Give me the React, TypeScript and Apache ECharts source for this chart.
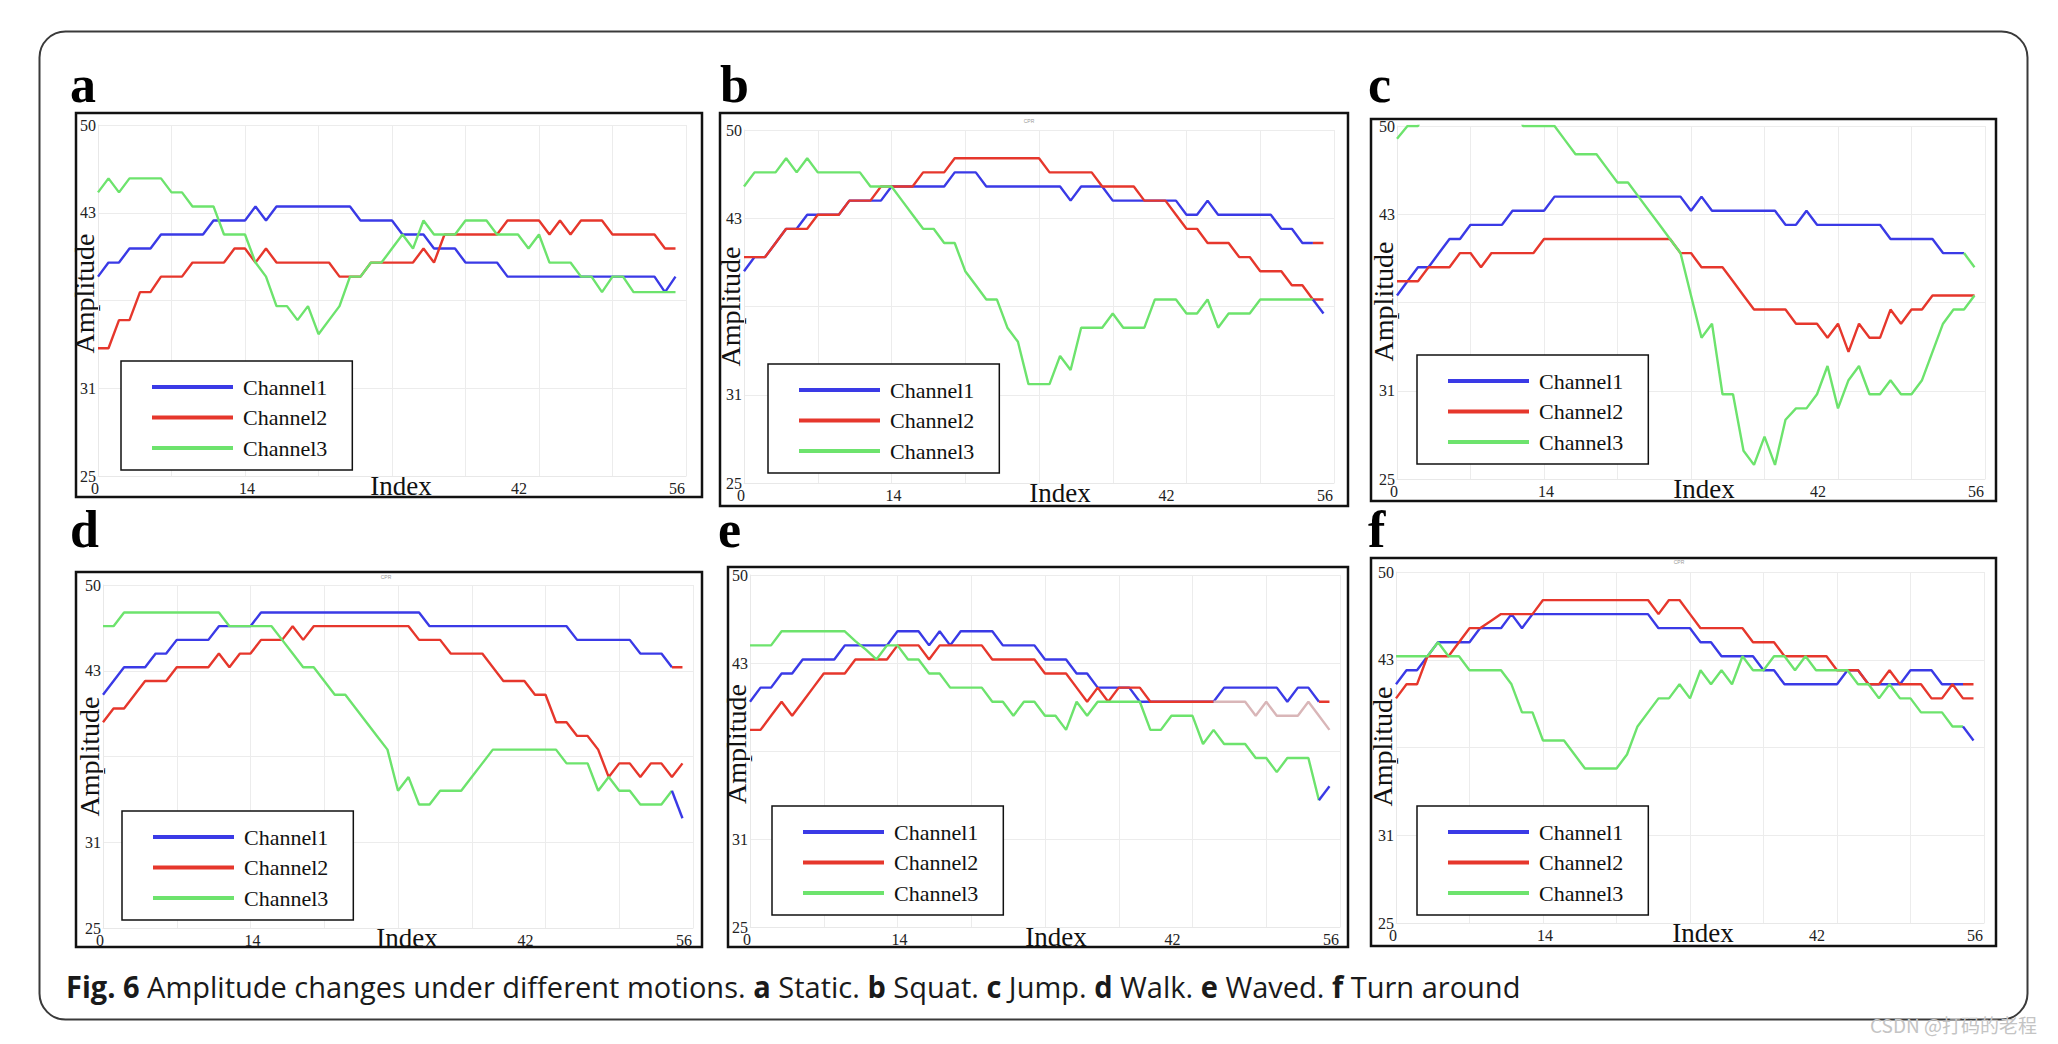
import React, { useEffect, useRef } from "react";
import * as echarts from "echarts";

// ---------------- data ----------------
const CHANNEL_NAMES = ["Channel1", "Channel2", "Channel3"];
const PANEL_LETTERS = ["a", "b", "c", "d", "e", "f"];
const X_TICK_LABELS = [0, 14, 42, 56];
const Y_TICK_LABELS = [25, 31.25, 43.75, 50];
const CAPTION = "{b|Fig. 6} Amplitude changes under different motions. {b|a} Static. {b|b} Squat. {b|c} Jump. {b|d} Walk. {b|e} Waved. {b|f} Turn around";

const A_CH1 = [39.2, 40.2, 40.2, 41.2, 41.2, 41.2, 42.2, 42.2, 42.2, 42.2,
  42.2, 43.2, 43.2, 43.2, 43.2, 44.2, 43.2, 44.2, 44.2, 44.2,
  44.2, 44.2, 44.2, 44.2, 44.2, 43.2, 43.2, 43.2, 43.2, 42.2,
  42.2, 42.2, 41.2, 41.2, 41.2, 40.2, 40.2, 40.2, 40.2, 39.2,
  39.2, 39.2, 39.2, 39.2, 39.2, 39.2, 39.2, 39.2, 39.2, 39.2,
  39.2, 39.2, 39.2, 39.2, 38.1, 39.2];
const A_CH2 = [34.1, 34.1, 36.1, 36.1, 38.1, 38.1, 39.2, 39.2, 39.2, 40.2,
  40.2, 40.2, 40.2, 41.2, 41.2, 40.2, 41.2, 40.2, 40.2, 40.2,
  40.2, 40.2, 40.2, 39.2, 39.2, 39.2, 40.2, 40.2, 40.2, 40.2,
  40.2, 41.2, 40.2, 42.2, 42.2, 42.2, 42.2, 42.2, 42.2, 43.2,
  43.2, 43.2, 43.2, 42.2, 43.2, 42.2, 43.2, 43.2, 43.2, 42.2,
  42.2, 42.2, 42.2, 42.2, 41.2, 41.2];
const A_CH3 = [45.2, 46.2, 45.2, 46.2, 46.2, 46.2, 46.2, 45.2, 45.2, 44.2,
  44.2, 44.2, 42.2, 42.2, 42.2, 40.2, 39.2, 37.1, 37.1, 36.1,
  37.1, 35.1, 36.1, 37.1, 39.2, 39.2, 40.2, 40.2, 41.2, 42.2,
  41.2, 43.2, 42.2, 42.2, 42.2, 43.2, 43.2, 43.2, 42.2, 42.2,
  42.2, 41.2, 42.2, 40.2, 40.2, 40.2, 39.2, 39.2, 38.1, 39.2,
  39.2, 38.1, 38.1, 38.1, 38.1, 38.1];

const B_CH1 = [40, 41, 41, 42, 43, 43, 44, 44, 44, 44,
  45, 45, 45, 45, 46, 46, 46, 46, 46, 46,
  47, 47, 47, 46, 46, 46, 46, 46, 46, 46,
  46, 45, 46, 46, 46, 45, 45, 45, 45, 45,
  45, 45, 44, 44, 45, 44, 44, 44, 44, 44,
  44, 43, 43, 42, 42, 42];
const B_CH2 = [41, 41, 41, 42, 43, 43, 43, 44, 44, 44,
  45, 45, 45, 46, 46, 46, 46, 47, 47, 47,
  48, 48, 48, 48, 48, 48, 48, 48, 48, 47,
  47, 47, 47, 47, 46, 46, 46, 46, 45, 45,
  45, 44, 43, 43, 42, 42, 42, 41, 41, 40,
  40, 40, 39, 39, 38, 38];
const B_CH3 = [46, 47, 47, 47, 48, 47, 48, 47, 47, 47,
  47, 47, 46, 46, 46, 45, 44, 43, 43, 42,
  42, 40, 39, 38, 38, 36, 35, 32, 32, 32,
  34, 33, 36, 36, 36, 37, 36, 36, 36, 38,
  38, 38, 37, 37, 38, 36, 37, 37, 37, 38,
  38, 38, 38, 38, 38, 37];

const C_CH1 = [38, 39, 40, 40, 41, 42, 42, 43, 43, 43,
  43, 44, 44, 44, 44, 45, 45, 45, 45, 45,
  45, 45, 45, 45, 45, 45, 45, 45, 44, 45,
  44, 44, 44, 44, 44, 44, 44, 43, 43, 44,
  43, 43, 43, 43, 43, 43, 43, 42, 42, 42,
  42, 42, 41, 41, 41, 40];
const C_CH2 = [39, 39, 39, 40, 40, 40, 41, 41, 40, 41,
  41, 41, 41, 41, 42, 42, 42, 42, 42, 42,
  42, 42, 42, 42, 42, 42, 42, 41, 41, 40,
  40, 40, 39, 38, 37, 37, 37, 37, 36, 36,
  36, 35, 36, 34, 36, 35, 35, 37, 36, 37,
  37, 38, 38, 38, 38, 38];
const C_CH3 = [49.1, 50, 50, 52, 52, 52, 52, 52, 52, 52,
  52, 52, 50, 50, 50, 50, 49, 48, 48, 48,
  47, 46, 46, 45, 44, 43, 42, 41, 38, 35,
  36, 31, 31, 27, 26, 28, 26, 29.2, 30, 30,
  31, 33, 30, 32, 33, 31, 31, 32, 31, 31,
  32, 34, 36, 37, 37, 38];

const D_CH1 = [42, 43, 44, 44, 44, 45, 45, 46, 46, 46,
  46, 47, 47, 47, 47, 48, 48, 48, 48, 48,
  48, 48, 48, 48, 48, 48, 48, 48, 48, 48,
  48, 47, 47, 47, 47, 47, 47, 47, 47, 47,
  47, 47, 47, 47, 47, 46, 46, 46, 46, 46,
  46, 45, 45, 45, 44, 44];
const D_CH2 = [40, 41, 41, 42, 43, 43, 43, 44, 44, 44,
  44, 45, 44, 45, 45, 46, 46, 46, 47, 46,
  47, 47, 47, 47, 47, 47, 47, 47, 47, 47,
  46, 46, 46, 45, 45, 45, 45, 44, 43, 43,
  43, 42, 42, 40, 40, 39, 39, 38, 36, 37,
  37, 36, 37, 37, 36, 37];
const D_CH3 = [47, 47, 48, 48, 48, 48, 48, 48, 48, 48,
  48, 48, 47, 47, 47, 47, 47, 46, 45, 44,
  44, 43, 42, 42, 41, 40, 39, 38, 35, 36,
  34, 34, 35, 35, 35, 36, 37, 38, 38, 38,
  38, 38, 38, 38, 37, 37, 37, 35, 36, 35,
  35, 34, 34, 34, 35, 33];

const E_CH1 = [41, 42, 42, 43, 43, 44, 44, 44, 44, 45,
  45, 45, 45, 45, 46, 46, 46, 45, 46, 45,
  46, 46, 46, 46, 45, 45, 45, 45, 44, 44,
  44, 43, 43, 42, 42, 42, 42, 41, 41, 41,
  41, 41, 41, 41, 41, 42, 42, 42, 42, 42,
  42, 41, 42, 42, 41, 41];
const E_CH2 = [39, 39, 40, 41, 40, 41, 42, 43, 43, 43,
  44, 44, 44, 44, 45, 45, 45, 44, 45, 45,
  45, 45, 45, 44, 44, 44, 44, 44, 43, 43,
  43, 42, 41, 42, 41, 42, 42, 42, 41, 41,
  41, 41, 41, 41, 41, 41, 41, 41, 40, 41,
  40, 40, 40, 41, 40, 39];
const E_CH3 = [45, 45, 45, 46, 46, 46, 46, 46, 46, 46,
  45.3, 44.7, 44, 45, 45, 44, 44, 43, 43, 42,
  42, 42, 42, 41, 41, 40, 41, 41, 40, 40,
  39, 41, 40, 41, 41, 41, 41, 41, 39, 39,
  40, 40, 40, 38, 39, 38, 38, 38, 37, 37,
  36, 37, 37, 37, 34, 35];

const F_CH1 = [42, 43, 43, 44, 45, 45, 45, 45, 46, 46,
  46, 47, 46, 47, 47, 47, 47, 47, 47, 47,
  47, 47, 47, 47, 47, 46, 46, 46, 46, 45,
  45, 44, 44, 44, 44, 43, 43, 42, 42, 42,
  42, 42, 42, 43, 43, 42, 42, 42, 42, 43,
  43, 43, 42, 42, 42, 42];
const F_CH2 = [41, 42, 42, 44, 44, 44, 45, 46, 46, 46.5,
  47, 47, 47, 47, 48, 48, 48, 48, 48, 48,
  48, 48, 48, 48, 48, 47, 48, 48, 47, 46,
  46, 46, 46, 46, 45, 45, 45, 44, 44, 44,
  44, 44, 43, 43, 43, 42, 42, 43, 42, 42,
  42, 41, 41, 42, 41, 41];
const F_CH3 = [44, 44, 44, 44, 45, 44, 44, 43, 43, 43,
  43, 42, 40, 40, 38, 38, 38, 37, 36, 36,
  36, 36, 37, 39, 40, 41, 41, 42, 41, 43,
  42, 43, 42, 44, 43, 43, 44, 44, 43, 44,
  43, 43, 43, 43, 42, 42, 41, 42, 41, 41,
  40, 40, 40, 39, 39, 38];

const PANEL_DATA = [
  [A_CH1, A_CH2, A_CH3],
  [B_CH1, B_CH2, B_CH3],
  [C_CH1, C_CH2, C_CH3],
  [D_CH1, D_CH2, D_CH3],
  [E_CH1, E_CH2, E_CH3],
  [F_CH1, F_CH2, F_CH3],
];

// ---------------- styles & layout ----------------
const BLUE = "#3a3ae6";
const RED = "#e6372c";
const GREEN = "#6de36d";
const PINK = "#d9b6b8";
const COLORS = [BLUE, RED, GREEN];
const SERIF = "'Liberation Serif', 'Times New Roman', serif";
const SANS = "'Open Sans', 'Noto Sans', sans-serif";

// where the last part of a line is drawn in another colour (as in the source figure)
const TAILS: Array<Array<{ from: number; color: string } | null>> = [
  [null, null, null],
  [{ from: 54, color: RED }, null, { from: 54, color: BLUE }],
  [{ from: 54, color: GREEN }, null, null],
  [{ from: 54, color: RED }, null, { from: 54, color: BLUE }],
  [{ from: 54, color: RED }, { from: 44, color: PINK }, { from: 54, color: BLUE }],
  [{ from: 54, color: RED }, null, { from: 54, color: BLUE }],
];

const LAYOUT = [
  { box: [76, 113, 626, 384], plot: [98, 125, 588, 351], legend: [121, 361], letter: [70, 84], indexShift: 9, ampShift: 7, tiny: null },
  { box: [720, 113, 628, 393], plot: [744, 130, 590, 353], legend: [768, 364], letter: [720, 84], indexShift: 21, ampShift: 0, tiny: [1029, 121] },
  { box: [1371, 119, 625, 382], plot: [1397, 126, 588, 353], legend: [1417, 355], letter: [1368, 84], indexShift: 13, ampShift: 1, tiny: null },
  { box: [76, 572, 626, 375], plot: [103, 585, 590, 343], legend: [122, 811], letter: [70, 529], indexShift: 9, ampShift: 0, tiny: [386, 577] },
  { box: [728, 567, 620, 380], plot: [750, 575, 590, 352], legend: [772, 806], letter: [718, 529], indexShift: 11, ampShift: 7, tiny: null },
  { box: [1371, 558, 625, 388], plot: [1396, 572, 588, 351], legend: [1417, 806], letter: [1368, 529], indexShift: 13, ampShift: 1, tiny: [1679, 562] },
];

const tickFont = { fontFamily: SERIF, fontSize: 16, color: "#222" };
const X_RICH_PAD: Record<number, number[]> = {
  0: [0, 6, 0, 0],
  14: [0, 0, 0, 4],
  42: [0, 40, 0, 0],
  56: [0, 18, 0, 0],
};

function lineSeries(name: string, g: number, color: string, vals: number[], from: number, to: number, z: number) {
  return {
    type: "line",
    name,
    xAxisIndex: g,
    yAxisIndex: g,
    data: vals.slice(from, to + 1).map((v, k) => [from + k, v]),
    symbol: "none",
    showSymbol: false,
    silent: true,
    clip: true,
    z,
    color,
    itemStyle: { color },
    lineStyle: { color, width: 2.4 },
    emphasis: { disabled: true },
  };
}

function buildOption() {
  const grids: any[] = [];
  const xAxes: any[] = [];
  const yAxes: any[] = [];
  const legends: any[] = [];
  const series: any[] = [];
  const graphics: any[] = [];

  const rich: any = {};
  X_TICK_LABELS.forEach((t) => {
    rich["l" + t] = { ...tickFont, padding: X_RICH_PAD[t] };
  });

  LAYOUT.forEach((L, g) => {
    const [px, py, pw, ph] = L.plot;
    grids.push({ left: px, top: py, width: pw, height: ph, containLabel: false, outerBoundsMode: "none", show: false });
    xAxes.push({
      type: "value",
      gridIndex: g,
      min: 0,
      max: 56,
      interval: 7,
      name: "Index",
      nameLocation: "middle",
      nameGap: -4,
      nameMoveOverlap: false,
      nameTextStyle: { fontFamily: SERIF, fontSize: 27, color: "#111", padding: [0, 0, 0, L.indexShift * 2], verticalAlign: "top" },
      axisLine: { show: true, lineStyle: { color: "#e8e8e8", width: 1 } },
      axisTick: { show: false },
      splitLine: { show: true, lineStyle: { color: "#ececec", width: 1 } },
      axisLabel: {
        ...tickFont,
        margin: 4,
        hideOverlap: false,
        showMinLabel: true,
        showMaxLabel: true,
        formatter: (v: number) => (X_TICK_LABELS.includes(v) ? `{l${v}|${v}}` : ""),
        rich,
      },
    });
    yAxes.push({
      type: "value",
      gridIndex: g,
      min: 25,
      max: 50,
      interval: 6.25,
      name: "Amplitude",
      nameLocation: "middle",
      nameGap: 0,
      nameRotate: 90,
      nameMoveOverlap: false,
      nameTextStyle: { fontFamily: SERIF, fontSize: 28, color: "#111", padding: [0, 0, 0, L.ampShift * 2] },
      axisLine: { show: true, lineStyle: { color: "#e8e8e8", width: 1 } },
      axisTick: { show: false },
      splitLine: { show: true, lineStyle: { color: "#ececec", width: 1 } },
      axisLabel: {
        ...tickFont,
        margin: 2,
        hideOverlap: false,
        showMinLabel: true,
        showMaxLabel: true,
        formatter: (v: number) => (Y_TICK_LABELS.includes(v) ? String(Math.floor(v)) : ""),
      },
    });
    legends.push({
      left: L.legend[0],
      top: L.legend[1],
      orient: "vertical",
      icon: "rect",
      itemWidth: 81,
      itemHeight: 4,
      itemGap: 6.5,
      padding: [14, 25, 10, 31],
      borderColor: "#111",
      borderWidth: 1.5,
      borderRadius: 0,
      backgroundColor: "#fff",
      selectedMode: false,
      data: CHANNEL_NAMES,
      textStyle: { fontFamily: SERIF, fontSize: 22, color: "#111", lineHeight: 24, padding: [0, 0, 0, 5] },
    });

    const chans = PANEL_DATA[g];
    chans.forEach((vals, c) => {
      const tail = TAILS[g][c];
      const end = tail ? tail.from : vals.length - 1;
      series.push(lineSeries(CHANNEL_NAMES[c], g, COLORS[c], vals, 0, end, 2 + c));
    });
    chans.forEach((vals, c) => {
      const tail = TAILS[g][c];
      if (tail) series.push(lineSeries(CHANNEL_NAMES[c] + " tail", g, tail.color, vals, tail.from, vals.length - 1, 6));
    });

    const [bx, by, bw, bh] = L.box;
    graphics.push({
      type: "rect",
      shape: { x: bx, y: by, width: bw, height: bh },
      style: { fill: "none", stroke: "#111", lineWidth: 2.5 },
      silent: true,
    });
    graphics.push({
      type: "text",
      x: L.letter[0],
      y: L.letter[1],
      style: { text: PANEL_LETTERS[g], fontFamily: SERIF, fontWeight: "bold", fontSize: 52, fill: "#000", verticalAlign: "middle" },
      silent: true,
    });
    if (L.tiny) {
      graphics.push({
        type: "text",
        x: L.tiny[0],
        y: L.tiny[1],
        style: { text: "CPR", fontSize: 5, fill: "#999", align: "center", verticalAlign: "middle" },
        silent: true,
      });
    }
  });

  graphics.push({
    type: "rect",
    shape: { x: 39.5, y: 31.5, width: 1988, height: 988, r: 26 },
    style: { fill: "none", stroke: "#3a3a3a", lineWidth: 2 },
    silent: true,
  });
  graphics.push({
    type: "text",
    x: 66,
    y: 986,
    scaleX: 0.967,
    style: {
      text: CAPTION,
      fontFamily: SANS,
      fontSize: 30,
      fill: "#1a1a1a",
      verticalAlign: "middle",
      rich: {
        b: { fontFamily: SANS, fontSize: 30, fontWeight: "bold", fill: "#1a1a1a" },
      },
    },
    silent: true,
  });
  graphics.push({
    type: "text",
    x: 1870,
    y: 1024,
    style: { text: "CSDN @打码的老程", fontFamily: "'Noto Sans CJK SC', sans-serif", fontSize: 19, fill: "#c4c4c4", verticalAlign: "middle" },
    silent: true,
  });

  return {
    animation: false,
    backgroundColor: "#ffffff",
    grid: grids,
    xAxis: xAxes,
    yAxis: yAxes,
    legend: legends,
    series,
    graphic: { elements: graphics },
  };
}

export default function App() {
  const ref = useRef<HTMLDivElement>(null);
  useEffect(() => {
    if (!ref.current) return;
    const chart = echarts.init(ref.current, null, { renderer: "svg" });
    chart.setOption(buildOption() as any);
    return () => chart.dispose();
  }, []);
  return (
    <div
      ref={ref}
      style={{ position: "fixed", left: 0, top: 0, width: 2058, height: 1044, background: "#fff" }}
    />
  );
}
